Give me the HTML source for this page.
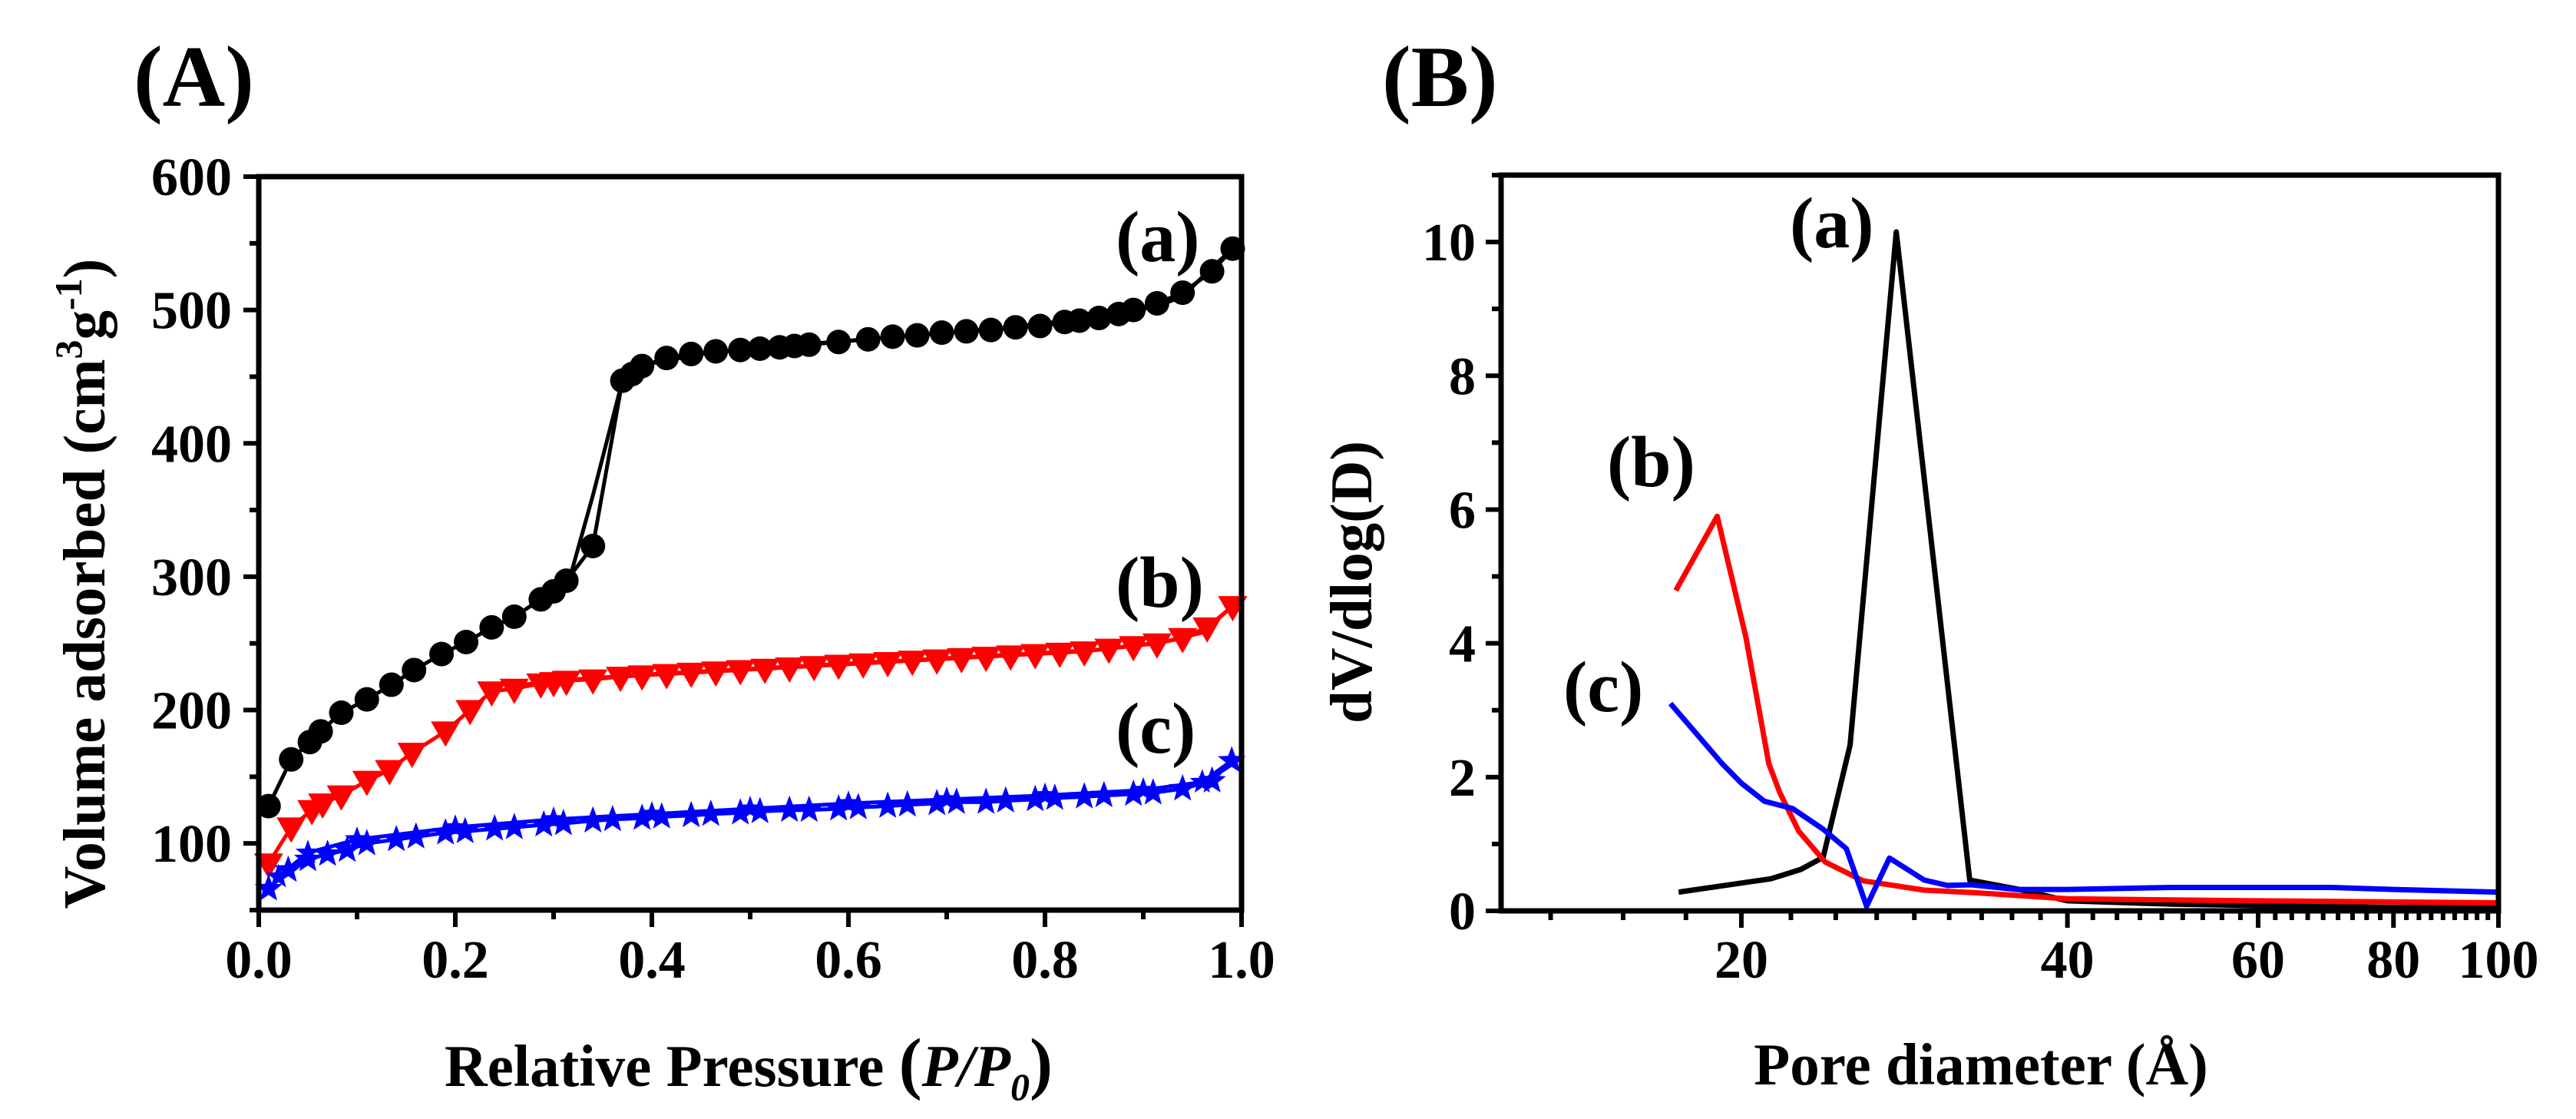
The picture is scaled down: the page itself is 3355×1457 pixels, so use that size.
<!DOCTYPE html>
<html><head><meta charset="utf-8"><style>
html,body{margin:0;padding:0;background:#fff;}
svg{display:block;font-family:"Liberation Serif",serif;font-weight:bold;}
</style></head><body>
<svg id="fig" width="3355" height="1457" viewBox="0 0 3355 1457" xmlns="http://www.w3.org/2000/svg">
<text x="174" y="138" font-size="113">(A)</text>
<text x="1800" y="138" font-size="113">(B)</text>
<g id="pa"></g>
<g id="pb"></g>
<text x="975" y="1414" font-size="77" text-anchor="middle">Relative Pressure <tspan font-size="90">(</tspan><tspan font-style="italic">P/P</tspan><tspan font-style="italic" font-size="50" dy="18">0</tspan><tspan font-size="90" dy="-18">)</tspan></text>
<text transform="translate(136,760) rotate(-90)" font-size="77" text-anchor="middle">Volume adsorbed (cm<tspan font-size="50" dy="-30">3</tspan><tspan dy="30">g</tspan><tspan font-size="50" dy="-30">-1</tspan><tspan dy="30">)</tspan></text>
<text x="2580" y="1412" font-size="77" text-anchor="middle">Pore diameter (Å)</text>
<text transform="translate(1786,758) rotate(-90)" font-size="77" text-anchor="middle">dV/dlog(D)</text>
<text x="1453" y="340" font-size="94">(a)</text>
<text x="1453" y="790" font-size="94">(b)</text>
<text x="1453" y="980" font-size="94">(c)</text>
<text x="2331" y="322" font-size="94">(a)</text>
<text x="2093" y="633" font-size="94">(b)</text>
<text x="2036" y="926" font-size="94">(c)</text>
</svg>
<script>
// Panel A data
const aXTicks = [0, 0.2, 0.4, 0.6, 0.8, 1.0];
const aXTickLabels = ["0.0", "0.2", "0.4", "0.6", "0.8", "1.0"];
const aYTicks = [100, 200, 300, 400, 500, 600];
const blackAdsP = [0.01,0.033,0.052,0.063,0.084,0.11,0.135,0.158,0.186,0.211,0.237,0.26,0.287,0.30,0.313,0.34,0.37,0.38,0.39,0.415,0.44,0.465,0.49,0.51,0.53,0.545,0.56,0.59,0.62,0.645,0.67,0.695,0.72,0.745,0.77,0.795,0.82,0.835,0.855,0.875,0.89,0.914,0.94,0.97,0.991];
const blackAdsV = [128,163,176,184,198,208,219,230,242,251,262,270,283,289,297,323,447,452,458,464,467,469,470,471,472,473,474,476,478,480,481,483,484,485,487,488,491,492,494,497,500,505,513,529,546];
const blackDesP = [0.991,0.97,0.94,0.91,0.88,0.85,0.8,0.75,0.7,0.65,0.6,0.55,0.5,0.45,0.4,0.38,0.37,0.34,0.315,0.3,0.29];
const blackDesV = [546,532,510,502,499,495,490,486,483,480,477,474,471,467,460,452,447,361,295,289,282];
const redAdsP = [0.01,0.033,0.054,0.065,0.084,0.11,0.133,0.156,0.19,0.215,0.237,0.26,0.287,0.3,0.313,0.34,0.368,0.39,0.415,0.44,0.465,0.49,0.515,0.54,0.565,0.59,0.615,0.64,0.665,0.69,0.715,0.74,0.765,0.79,0.815,0.84,0.865,0.89,0.914,0.94,0.965,0.991];
const redAdsV = [85,112,125,130,136,147,155,168,184,200,214,216,220,221,222,223,225,226,227,228,229,230,231,232,233,234,235,236,237,238,239,240,241,242,243,244,246,248,250,254,262,278];
const redDesP = [0.991,0.96,0.92,0.85,0.75,0.6,0.5,0.4,0.3,0.25];
const redDesV = [278,258,251,245,241,235,231,227,222,217];
const blueAdsP = [0.01,0.03,0.05,0.07,0.09,0.11,0.14,0.16,0.19,0.21,0.24,0.26,0.29,0.31,0.34,0.36,0.39,0.41,0.44,0.46,0.49,0.51,0.54,0.56,0.59,0.61,0.64,0.66,0.69,0.71,0.74,0.76,0.79,0.81,0.84,0.86,0.89,0.91,0.94,0.97,0.99];
const blueAdsV = [66,80,88,92,95,100,103,105,108,109,111,112,114,115,117,118,119,120,121,122,123,124,125,125,126,127,128,129,130,131,131,132,133,134,135,136,137,138,141,147,162];
const blueDesP = [0.99,0.96,0.9,0.8,0.7,0.6,0.5,0.4,0.3,0.2,0.1,0.05,0.02];
const blueDesV = [162,146,140,136,133,130,126,122,118,112,103,93,75];
// Panel B data
const bXTicks = [20, 40, 60, 80, 100];
const bYTicks = [0, 2, 4, 6, 8, 10];
const bBlackD = [17.5,21.3,22.7,23.8,25.2,27.8,32.5,36.1,40,50,60,80,100];
const bBlackV = [0.28,0.48,0.62,0.80,2.48,10.15,0.46,0.32,0.15,0.10,0.08,0.05,0.05];
const bRedD = [17.4,19.0,20.2,21.2,21.7,22.6,23.9,25.9,29.5,33,40,60,100];
const bRedV = [4.79,5.90,4.08,2.20,1.77,1.19,0.73,0.45,0.31,0.27,0.18,0.15,0.12];
const bBlueD = [17.2,19.2,20.0,21.0,22.3,23.8,25.0,26.1,27.4,29.5,31.0,32.6,35.9,40,50,70,80,100];
const bBlueV = [3.10,2.20,1.91,1.64,1.53,1.22,0.93,0.07,0.79,0.46,0.38,0.39,0.32,0.32,0.35,0.35,0.32,0.28];

const NS = "http://www.w3.org/2000/svg";
function mk(parent, tag, attrs) {
  const e = document.createElementNS(NS, tag);
  for (const k in attrs) e.setAttribute(k, attrs[k]);
  parent.appendChild(e);
  return e;
}
const AL = 337, AR = 1617, AT = 230, AB = 1185;
const AYMIN = 50, AYMAX = 600;
function ax(p) { return AL + (AR - AL) * p; }
function ay(v) { return AB - (AB - AT) * (v - AYMIN) / (AYMAX - AYMIN); }
const BL = 1955, BR = 3254, BT = 228, BB = 1186;
const BXMIN = 12, BXMAX = 100, BYMAX = 11;
function bx(d) { return BL + (BR - BL) * (Math.log10(d) - Math.log10(BXMIN)) / (Math.log10(BXMAX) - Math.log10(BXMIN)); }
function by(v) { return BB - (BB - BT) * v / BYMAX; }

const pa = document.getElementById('pa');
const pb = document.getElementById('pb');

function polyline(g, xs, ys, fx, fy, color, w, name) {
  const pts = xs.map((x, i) => fx(x).toFixed(1) + ',' + fy(ys[i]).toFixed(1)).join(' ');
  const el = mk(g, 'polyline', {points: pts, fill: 'none', stroke: color, 'stroke-width': w, 'stroke-linejoin': 'round'});
  
  
}
function starPath(cx, cy, R, r) {
  let d = '';
  for (let i = 0; i < 10; i++) {
    const a = -Math.PI / 2 + i * Math.PI / 5;
    const rr = i % 2 ? r : R;
    d += (i ? 'L' : 'M') + (cx + rr * Math.cos(a)).toFixed(1) + ',' + (cy + rr * Math.sin(a)).toFixed(1);
  }
  return d + 'Z';
}

polyline(pa, blackDesP, blackDesV, ax, ay, '#000', 5, 'series-a-desorption-line');
polyline(pa, blackAdsP, blackAdsV, ax, ay, '#000', 5, 'series-a-adsorption-line');
polyline(pa, redDesP, redDesV, ax, ay, '#f00', 5, 'series-b-desorption-line');
polyline(pa, redAdsP, redAdsV, ax, ay, '#f00', 5, 'series-b-adsorption-line');
polyline(pa, blueDesP, blueDesV, ax, ay, '#00f', 5, 'series-c-desorption-line');
polyline(pa, blueAdsP, blueAdsV, ax, ay, '#00f', 5, 'series-c-adsorption-line');
blackAdsP.forEach((p, i) => {
  const c = mk(pa, 'circle', {cx: ax(p), cy: ay(blackAdsV[i]), r: 16, fill: '#000'});
  
  
});
redAdsP.forEach((p, i) => {
  const x = ax(p), y = ay(redAdsV[i]);
  const t = mk(pa, 'polygon', {points: (x-19)+','+(y-13)+' '+(x+19)+','+(y-13)+' '+x+','+(y+20), fill: '#f00'});
  
  
});
blueAdsP.forEach((p, i) => {
  const s = mk(pa, 'path', {d: starPath(ax(p), ay(blueAdsV[i]), 19, 8), fill: '#00f'});
  
  
});
blueDesP.forEach((p, i) => {
  const s = mk(pa, 'path', {d: starPath(ax(p), ay(blueDesV[i]), 17, 7), fill: '#00f'});
  
  
});

const frameA = mk(pa, 'rect', {x: AL, y: AT, width: AR - AL, height: AB - AT, fill: 'none', stroke: '#000', 'stroke-width': 7});


aXTicks.forEach((t, i) => {
  const x = ax(t);
  const tk = mk(pa, 'line', {x1: x, y1: AB, x2: x, y2: AB + 22, stroke: '#000', 'stroke-width': 6});
  
  
  const lb = mk(pa, 'text', {x: x, y: 1273, 'font-size': 70, 'text-anchor': 'middle'});
  lb.textContent = aXTickLabels[i];
  
  
  if (i < aXTicks.length - 1) {
    const xm = ax(t + 0.1);
    const mt = mk(pa, 'line', {x1: xm, y1: AB, x2: xm, y2: AB + 12, stroke: '#000', 'stroke-width': 6});
    
    
  }
});
for (let v = 50; v <= 550; v += 100) {
  const mt = mk(pa, 'line', {x1: AL - 12, y1: ay(v), x2: AL, y2: ay(v), stroke: '#000', 'stroke-width': 6});
  
  
}
aYTicks.forEach(t => {
  const y = ay(t);
  const tk = mk(pa, 'line', {x1: AL - 20, y1: y, x2: AL, y2: y, stroke: '#000', 'stroke-width': 6});
  
  
  const lb = mk(pa, 'text', {x: 302, y: y + 24, 'font-size': 70, 'text-anchor': 'end'});
  lb.textContent = String(t);
  
  
});

polyline(pb, bBlackD, bBlackV, bx, by, '#000', 7, 'series-a-psd-line');
polyline(pb, bRedD, bRedV, bx, by, '#f00', 7, 'series-b-psd-line');
polyline(pb, bBlueD, bBlueV, bx, by, '#00f', 7, 'series-c-psd-line');

const frameB = mk(pb, 'rect', {x: BL, y: BT, width: BR - BL, height: BB - BT, fill: 'none', stroke: '#000', 'stroke-width': 7});


const bMinorStarts = [0, 20, 40, 60, 80];
bMinorStarts.forEach(s => {
  for (let k = 1; k <= 8; k++) {
    const d = s + k * 20 / 9;
    if (d <= BXMIN) continue;
    const x = bx(d);
    const mt = mk(pb, 'line', {x1: x, y1: BB, x2: x, y2: BB + 12, stroke: '#000', 'stroke-width': 6});
    
    
  }
});
bXTicks.forEach(t => {
  const x = bx(t);
  const tk = mk(pb, 'line', {x1: x, y1: BB, x2: x, y2: BB + 22, stroke: '#000', 'stroke-width': 6});
  
  
  const lb = mk(pb, 'text', {x: x, y: 1273, 'font-size': 70, 'text-anchor': 'middle'});
  lb.textContent = String(t);
  
  
});
for (let v = 1; v <= 11; v += 2) {
  const mt = mk(pb, 'line', {x1: BL - 12, y1: by(v), x2: BL, y2: by(v), stroke: '#000', 'stroke-width': 6});
  
  
}
bYTicks.forEach(t => {
  const y = by(t);
  const tk = mk(pb, 'line', {x1: BL - 20, y1: y, x2: BL, y2: y, stroke: '#000', 'stroke-width': 6});
  
  
  const lb = mk(pb, 'text', {x: 1922, y: y + 24, 'font-size': 70, 'text-anchor': 'end'});
  lb.textContent = String(t);
  
  
});
</script>
</body></html>
